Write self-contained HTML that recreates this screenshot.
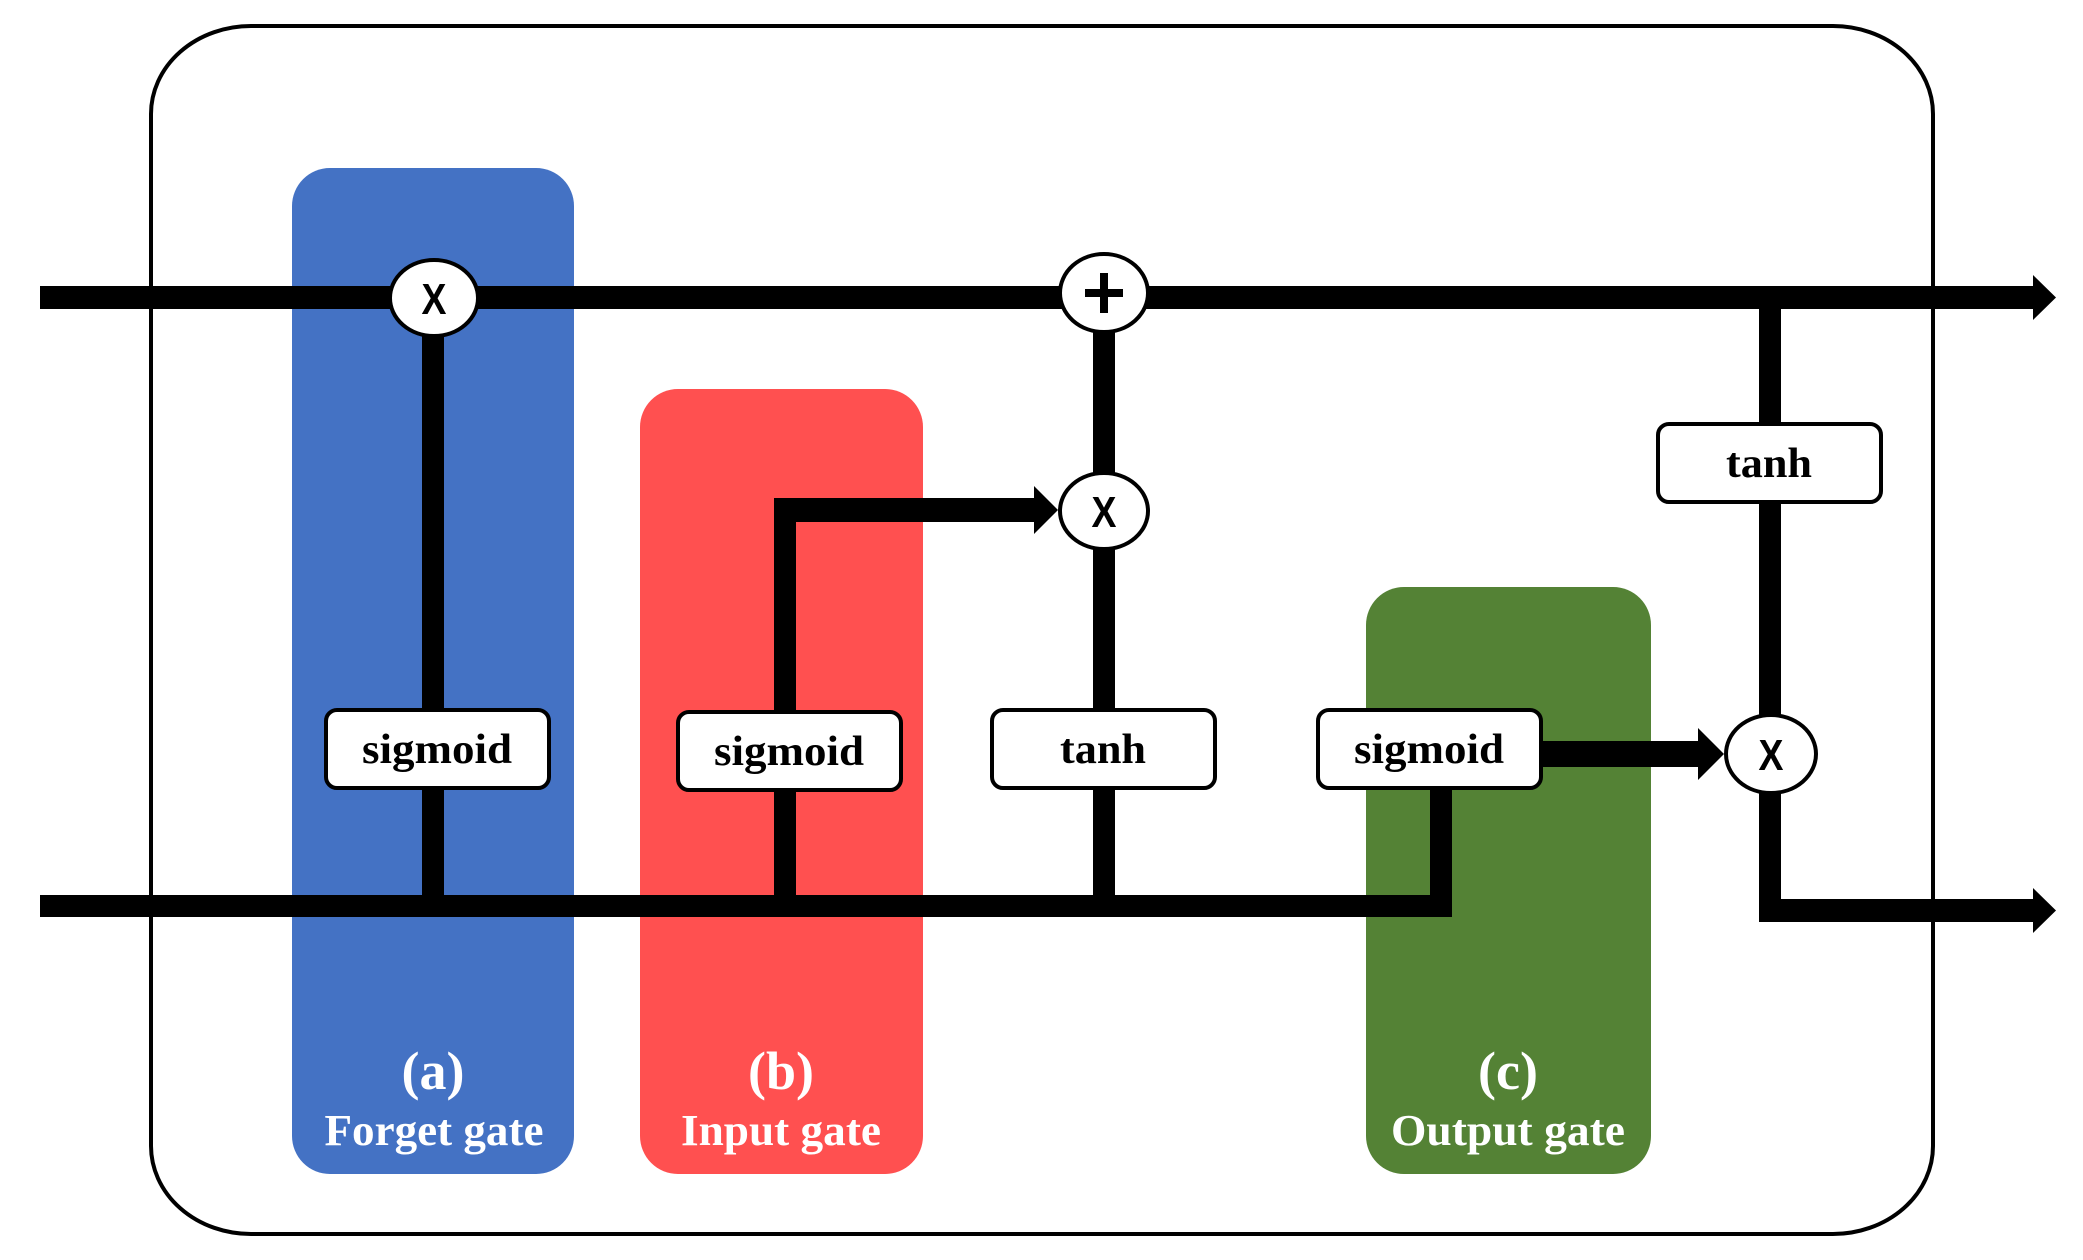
<!DOCTYPE html>
<html><head><meta charset="utf-8"><style>html,body{margin:0;padding:0;background:#fff}svg{display:block}</style></head>
<body>
<svg width="2083" height="1260" viewBox="0 0 2083 1260" xmlns="http://www.w3.org/2000/svg" font-family="Liberation Serif, serif" font-weight="bold">
<rect x="151" y="26" width="1782" height="1208" rx="100" ry="88" fill="#fff" stroke="#000" stroke-width="4"/>
<rect x="292" y="168" width="282" height="1006" rx="38" fill="#4472C4"/>
<rect x="640" y="389" width="283" height="785" rx="38" fill="#FF5050"/>
<rect x="1366" y="587" width="285" height="587" rx="38" fill="#548235"/>
<rect x="40" y="286" width="1995" height="23" fill="#000"/>
<polygon points="2033,275 2056,297.5 2033,320" fill="#000"/>
<rect x="40" y="895" width="1412" height="22" fill="#000"/>
<rect x="422" y="297" width="22" height="610" fill="#000"/>
<rect x="1093" y="297" width="22" height="610" fill="#000"/>
<rect x="774" y="500" width="22" height="407" fill="#000"/>
<rect x="774" y="498" width="270" height="24" fill="#000"/>
<polygon points="1034,486 1058,510 1034,534" fill="#000"/>
<rect x="1430" y="760" width="22" height="157" fill="#000"/>
<rect x="1530" y="741" width="175" height="26" fill="#000"/>
<polygon points="1698,728 1724,754 1698,780" fill="#000"/>
<rect x="1759" y="297" width="22" height="625" fill="#000"/>
<rect x="1759" y="899" width="274" height="23" fill="#000"/>
<polygon points="2033,888 2056,910.5 2033,933" fill="#000"/>
<g fill="#fff" stroke="#000" stroke-width="4">
<ellipse cx="434" cy="298" rx="44" ry="38"/>
<ellipse cx="1104" cy="293" rx="44" ry="39"/>
<ellipse cx="1104" cy="511" rx="44" ry="38"/>
<ellipse cx="1771" cy="754" rx="45" ry="39"/>
</g>
<g fill="#000">
<rect x="1100" y="273" width="8" height="40"/>
<rect x="1085" y="289" width="38" height="8"/>
</g>
<g font-family="Liberation Sans, sans-serif" font-size="44" text-anchor="middle" fill="#000">
<text x="434" y="314" transform="translate(434 314) scale(0.85 1) translate(-434 -314)">X</text>
<text x="1104" y="527" transform="translate(1104 527) scale(0.85 1) translate(-1104 -527)">X</text>
<text x="1771" y="770" transform="translate(1771 770) scale(0.85 1) translate(-1771 -770)">X</text>
</g>
<g fill="#fff" stroke="#000" stroke-width="4">
<rect x="326" y="710" width="223" height="78" rx="11"/>
<rect x="678" y="712" width="223" height="78" rx="11"/>
<rect x="992" y="710" width="223" height="78" rx="11"/>
<rect x="1318" y="710" width="223" height="78" rx="11"/>
<rect x="1658" y="424" width="223" height="78" rx="11"/>
</g>
<g font-size="42" text-anchor="middle" fill="#000">
<text x="437" y="763" textLength="150" lengthAdjust="spacingAndGlyphs">sigmoid</text>
<text x="789" y="765" textLength="150" lengthAdjust="spacingAndGlyphs">sigmoid</text>
<text x="1103" y="763" textLength="86" lengthAdjust="spacingAndGlyphs">tanh</text>
<text x="1429" y="763" textLength="150" lengthAdjust="spacingAndGlyphs">sigmoid</text>
<text x="1769" y="477" textLength="86" lengthAdjust="spacingAndGlyphs">tanh</text>
</g>
<g fill="#fff" text-anchor="middle">
<text x="433" y="1089" font-size="54">(a)</text>
<text x="434" y="1145" font-size="44" textLength="219" lengthAdjust="spacingAndGlyphs">Forget gate</text>
<text x="781" y="1089" font-size="54">(b)</text>
<text x="781" y="1145" font-size="44" textLength="200" lengthAdjust="spacingAndGlyphs">Input gate</text>
<text x="1508" y="1089" font-size="54">(c)</text>
<text x="1508" y="1145" font-size="44" textLength="234" lengthAdjust="spacingAndGlyphs">Output gate</text>
</g>
</svg>
</body></html>
